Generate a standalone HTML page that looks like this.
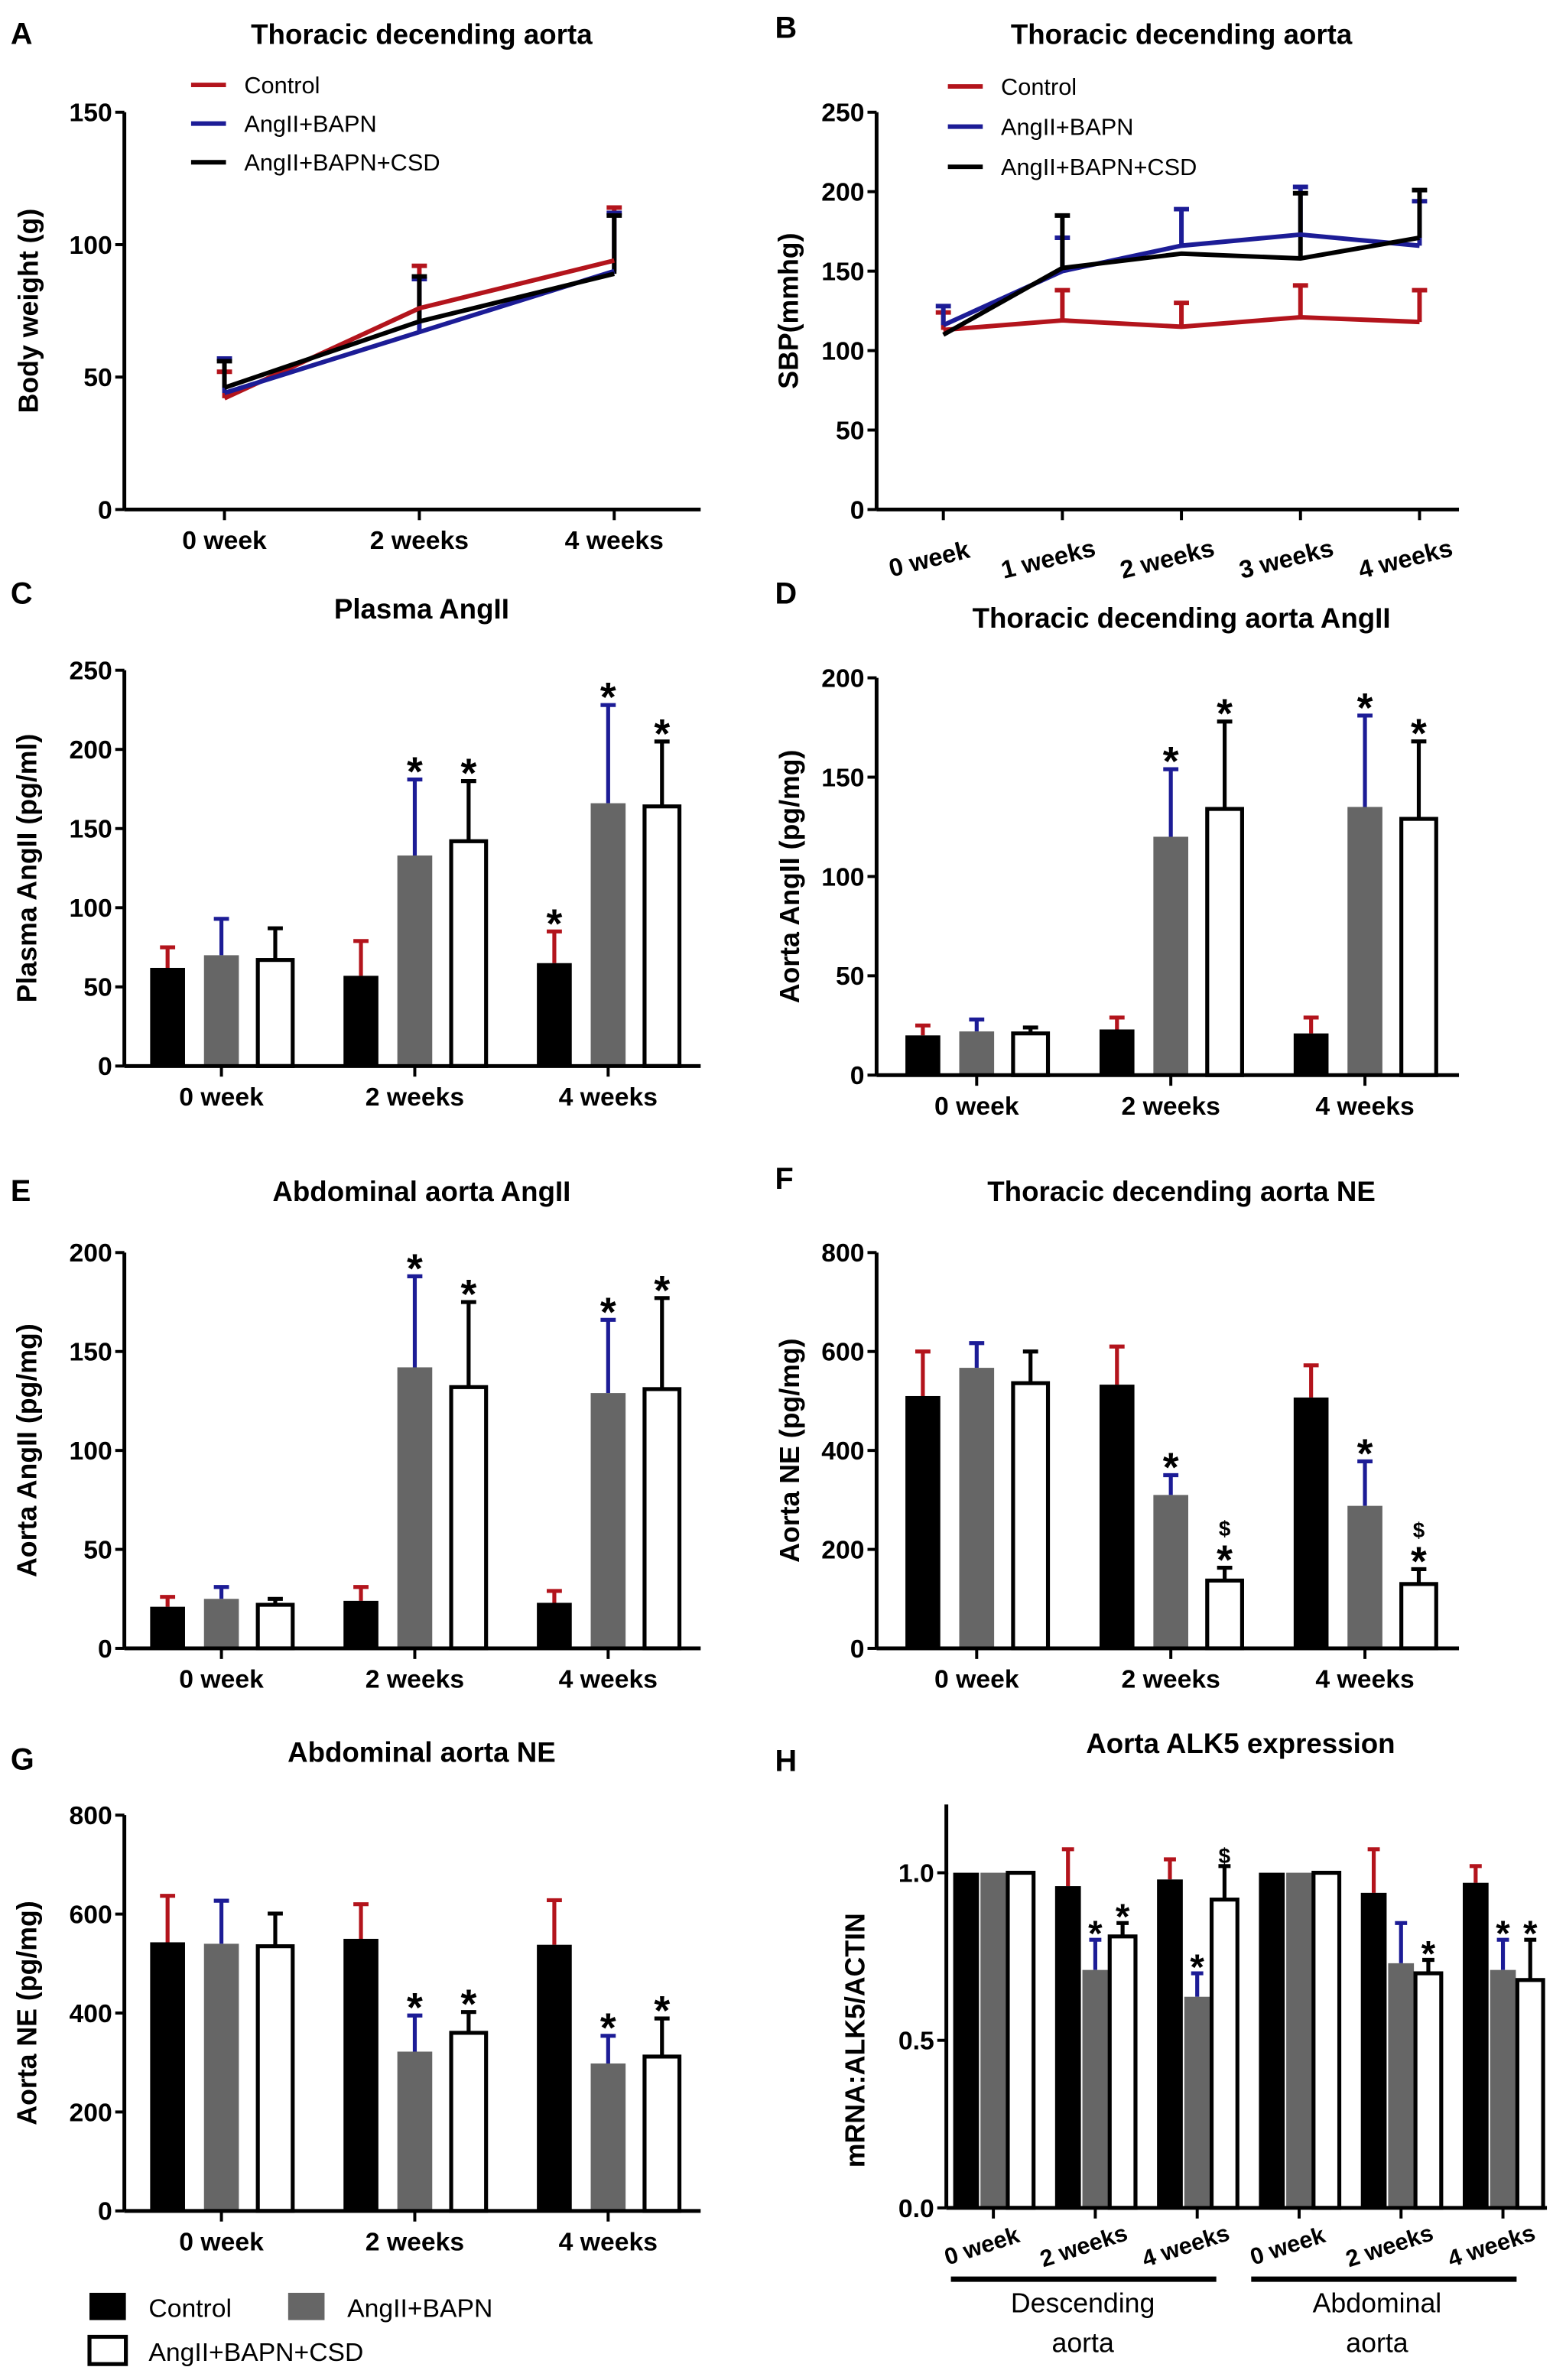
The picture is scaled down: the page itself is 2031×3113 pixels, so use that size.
<!DOCTYPE html>
<html><head><meta charset="utf-8"><style>
html,body{margin:0;padding:0;background:#fff}
svg{display:block}
text{font-family:"Liberation Sans",Arial,sans-serif}
</style></head><body>
<svg id="fig" width="2031" height="3113" viewBox="0 0 1024 1569.5" preserveAspectRatio="none" xmlns="http://www.w3.org/2000/svg"></svg>
<script>
// ---------- DATA ----------
const lineCatsA = ["0 week","2 weeks","4 weeks"];
const aControl = [42,76,94], aControlErr = [52,92,114];
const aAng = [44,67,90], aAngErr = [57,87,112];
const aCsd = [46,71,89], aCsdErr = [56,88,111];
const aTicks = [0,50,100,150];

const lineCatsB = ["0 week","1 weeks","2 weeks","3 weeks","4 weeks"];
const bControl = [113,119,115,121,118], bControlErr = [124,138,130,141,138];
const bAng = [116,150,166,173,166], bAngErr = [128,171,189,203,194];
const bCsd = [110,152,161,158,171], bCsdErr = [110,185,161,199,201];
const bTicks = [0,50,100,150,200,250];

const barCats = ["0 week","2 weeks","4 weeks"];
const cControl=[62,57,65], cControlErr=[75,79,85];
const cAng=[70,133,166], cAngErr=[93,181,228];
const cCsd=[67,142,164], cCsdErr=[87,180,205];
const cTicks=[0,50,100,150,200,250];
const cMarks=[[2,0,"*"],[1,1,"*"],[1,2,"*"],[2,1,"*"],[2,2,"*"]];

const dControl=[20,23,21], dControlErr=[25,29,29];
const dAng=[22,120,135], dAngErr=[28,154,181];
const dCsd=[21,134,129], dCsdErr=[24,178,168];
const dTicks=[0,50,100,150,200];
const dMarks=[[1,1,"*"],[1,2,"*"],[2,1,"*"],[2,2,"*"]];

const eControl=[21,24,23], eControlErr=[26,31,29];
const eAng=[25,142,129], eAngErr=[31,188,166];
const eCsd=[22,132,131], eCsdErr=[25,175,177];
const eTicks=[0,50,100,150,200];
const eMarks=[[1,1,"*"],[1,2,"*"],[2,1,"*"],[2,2,"*"]];

const fControl=[510,533,507], fControlErr=[600,610,572];
const fAng=[567,310,288], fAngErr=[617,350,378];
const fCsd=[536,137,130], fCsdErr=[600,163,160];
const fTicks=[0,200,400,600,800];
const fMarks=[[1,1,"*"],[1,2,"*$"],[2,1,"*"],[2,2,"*$"]];

const gControl=[543,550,538], gControlErr=[637,620,628];
const gAng=[540,322,298], gAngErr=[627,395,354];
const gCsd=[535,360,312], gCsdErr=[601,402,389];
const gTicks=[0,200,400,600,800];
const gMarks=[[1,1,"*"],[1,2,"*"],[2,1,"*"],[2,2,"*"]];

const hCats=["0 week","2 weeks","4 weeks","0 week","2 weeks","4 weeks"];
const hControl=[1,0.96,0.98,1,0.94,0.97], hControlErr=[1,1.07,1.04,1,1.07,1.02];
const hAng=[1,0.71,0.63,1,0.73,0.71], hAngErr=[1,0.80,0.70,1,0.85,0.80];
const hCsd=[1,0.81,0.92,1,0.70,0.68], hCsdErr=[1,0.85,1.02,1,0.74,0.80];
const hTicks=[0.0,0.5,1.0];
const hMarks=[[1,1,"*"],[1,2,"*"],[2,1,"*"],[2,2,"$"],[4,2,"*"],[5,1,"*"],[5,2,"*"]];

// ---------- HELPERS ----------
const NS="http://www.w3.org/2000/svg";
const svg=document.getElementById('fig');
const RED="#b3141c", BLUE="#1c1c96", GRAY="#666666";
function mk(tag,attrs,parent){const e=document.createElementNS(NS,tag);for(const k in attrs)e.setAttribute(k,attrs[k]);(parent||svg).appendChild(e);return e;}
function txt(str,x,y,size,weight,anchor,parent,extra){const t=mk('text',Object.assign({x:x,y:y,'font-size':size,'font-weight':weight||'bold','text-anchor':anchor||'middle',fill:'#000'},extra||{}),parent);t.textContent=str;return t;}

function yAxis(g,ax,yBot,yTop,max,ticks,fmt,title,titleX){
  const sc=v=>yBot-(v/max)*(yBot-yTop);
  const l=mk('line',{x1:ax,y1:yBot,x2:ax,y2:yTop,stroke:'#000','stroke-width':2.5},g);
  
  
  ticks.forEach(v=>{
    const tk=mk('line',{x1:ax-6,y1:sc(v),x2:ax,y2:sc(v),stroke:'#000','stroke-width':2},g);
    
    
    const t=txt(fmt?fmt(v):String(v),ax-8,sc(v)+6,17,'bold','end',g);
    
    
  });
  const cy=(yBot+yTop)/2;
  const tt=txt(title,titleX,cy,18,'bold','middle',g,{transform:`rotate(-90 ${titleX} ${cy})`});
  
  
  return sc;
}
function xAxis(g,ax,xEnd,yBot,centers){
  const l=mk('line',{x1:ax,y1:yBot,x2:xEnd,y2:yBot,stroke:'#000','stroke-width':2.5},g);
  
  
  centers.forEach(c=>{
    const tk=mk('line',{x1:c,y1:yBot,x2:c,y2:yBot+7,stroke:'#000','stroke-width':2},g);
    
    
  });
}
function panelHead(g,letter,lx,ly,title,tx,ty){
  const a=txt(letter,lx,ly,20,'bold','start',g);
  
  
  const t=txt(title,tx,ty,18.5,'bold','middle',g);
  
  
}

// ---------- LINE CHARTS ----------
function lineChart(name,cfg,cats,series){
  const g=mk('g',{});
  
  
  panelHead(g,cfg.letter,cfg.lx,cfg.ly,cfg.title,cfg.tx,cfg.ty);
  const sc=yAxis(g,cfg.ax,cfg.yBot,cfg.yTop,cfg.max,cfg.ticks,null,cfg.ytitle,cfg.ytitleX);
  const xs=i=>cfg.x0+i*cfg.step;
  const centers=cats.map((c,i)=>xs(i));
  xAxis(g,cfg.ax,cfg.xEnd,cfg.yBot,centers);
  cats.forEach((c,i)=>{
    let t;
    if(cfg.rot){t=txt(c,xs(i)-8,cfg.yBot+38,16.5,'bold','middle',g,{transform:`rotate(-14 ${xs(i)-8} ${cfg.yBot+38})`});}
    else t=txt(c,xs(i),cfg.yBot+26,17,'bold','middle',g);
    
    
  });
  series.forEach(s=>{
    s.err.forEach((e,i)=>{
      if(e<=s.vals[i]) return;
      const eb=mk('path',{d:`M${xs(i)},${sc(s.vals[i])}V${sc(e)}M${xs(i)-5},${sc(e)}H${xs(i)+5}`,stroke:s.color,'stroke-width':3,fill:'none'},g);
      
      
    });
  });
  series.forEach(s=>{
    const p=mk('polyline',{points:s.vals.map((v,i)=>`${xs(i)},${sc(v)}`).join(' '),stroke:s.color,'stroke-width':3,fill:'none'},g);
    
    
  });
  series.forEach((s,k)=>{
    const y=cfg.legY+k*cfg.legDy;
    const ll=mk('line',{x1:cfg.legX,y1:y,x2:cfg.legX+23,y2:y,stroke:s.color,'stroke-width':3},g);
    
    
    const lt=txt(s.label,cfg.legX+35,y+5.5,15.5,'normal','start',g);
    
    
  });
}
lineChart('panel-a-body-weight',{letter:'A',lx:7,ly:29,title:'Thoracic decending aorta',tx:278,ty:29,ax:82,yBot:336,yTop:74,max:150,ticks:aTicks,ytitle:'Body weight (g)',ytitleX:25,x0:148,step:128.5,xEnd:462,legX:126,legY:56,legDy:25.5},
  lineCatsA,[{vals:aControl,err:aControlErr,color:RED,label:'Control'},{vals:aAng,err:aAngErr,color:BLUE,label:'AngII+BAPN'},{vals:aCsd,err:aCsdErr,color:'#000',label:'AngII+BAPN+CSD'}]);
lineChart('panel-b-sbp',{letter:'B',lx:511,ly:25,title:'Thoracic decending aorta',tx:779,ty:29,ax:578,yBot:336,yTop:74,max:250,ticks:bTicks,ytitle:'SBP(mmhg)',ytitleX:526,x0:622,step:78.5,xEnd:962,rot:true,legX:625,legY:57,legDy:26.5},
  lineCatsB,[{vals:bControl,err:bControlErr,color:RED,label:'Control'},{vals:bAng,err:bAngErr,color:BLUE,label:'AngII+BAPN'},{vals:bCsd,err:bCsdErr,color:'#000',label:'AngII+BAPN+CSD'}]);

// ---------- BAR CHARTS ----------
function barChart(name,cfg,cats,series,marks){
  const g=mk('g',{});
  
  
  panelHead(g,cfg.letter,cfg.lx,cfg.ly,cfg.title,cfg.tx,cfg.ty);
  const sc=yAxis(g,cfg.ax,cfg.yBot,cfg.yTop,cfg.max,cfg.ticks,cfg.fmt,cfg.ytitle,cfg.ytitleX);
  const cx=i=>cfg.x0+i*cfg.step;
  const centers=cats.map((c,i)=>cx(i));
  series.forEach((s,k)=>{
    s.vals.forEach((v,i)=>{
      const x=cx(i)+(k-1)*cfg.off;
      if(s.err[i]>v){
        const eb=mk('path',{d:`M${x},${sc(v)}V${sc(s.err[i])}M${x-cfg.cap},${sc(s.err[i])}H${x+cfg.cap}`,stroke:s.ecol,'stroke-width':2.6,fill:'none'},g);
        
        
      }
      const r=mk('rect',{x:x-cfg.w/2,y:sc(v),width:cfg.w,height:cfg.yBot-sc(v),fill:s.fill,stroke:'#000','stroke-width':s.fill==='#fff'?2.6:0},g);
      
      
    });
  });
  xAxis(g,cfg.ax,cfg.xEnd,cfg.yBot,centers);
  cats.forEach((c,i)=>{
    let t;
    if(cfg.rot){const X=cx(i)-6,Y=cfg.yBot+30;t=txt(c,X,Y,15.5,'bold','middle',g,{transform:`rotate(-18 ${X} ${Y})`});}
    else t=txt(c,cx(i),cfg.yBot+26,17,'bold','middle',g);
    
    
  });
  marks.forEach(m=>{
    const s=series[m[1]];const x=cx(m[0])+(m[1]-1)*cfg.off;
    let y=sc(Math.max(s.err[m[0]],s.vals[m[0]]));
    const sym=m[2];
    if(sym.indexOf('*')>=0){const t=txt('*',x,y+4,cfg.star,'bold','middle',g);y-=cfg.star*0.7;}
    if(sym.indexOf('$')>=0){const t=txt('$',x,y-2,14,'bold','middle',g);}
  });
  return g;
}
function ser(c,ce,a,ae,w,we){return [{key:'control',vals:c,err:ce,fill:'#000',ecol:RED},{key:'angii-bapn',vals:a,err:ae,fill:GRAY,ecol:BLUE},{key:'angii-bapn-csd',vals:w,err:we,fill:'#fff',ecol:'#000'}];}
const leftBase={ax:82,x0:146,step:127.5,off:35.5,w:23,cap:5,xEnd:462,star:27};
const rightBase={ax:578,x0:644,step:128,off:35.5,w:23,cap:5,xEnd:962,star:27};
barChart('panel-c-plasma-angii',Object.assign({},leftBase,{letter:'C',lx:7,ly:398,title:'Plasma AngII',tx:278,ty:408,yBot:703,yTop:442,max:250,ticks:cTicks,ytitle:'Plasma AngII  (pg/ml)',ytitleX:24}),barCats,ser(cControl,cControlErr,cAng,cAngErr,cCsd,cCsdErr),cMarks);
barChart('panel-d-aorta-angii',Object.assign({},rightBase,{letter:'D',lx:511,ly:398,title:'Thoracic decending aorta AngII',tx:779,ty:414,yBot:709,yTop:447,max:200,ticks:dTicks,ytitle:'Aorta AngII  (pg/mg)',ytitleX:527}),barCats,ser(dControl,dControlErr,dAng,dAngErr,dCsd,dCsdErr),dMarks);
barChart('panel-e-abdominal-angii',Object.assign({},leftBase,{letter:'E',lx:7,ly:792,title:'Abdominal aorta AngII',tx:278,ty:792,yBot:1087,yTop:826,max:200,ticks:eTicks,ytitle:'Aorta AngII  (pg/mg)',ytitleX:24}),barCats,ser(eControl,eControlErr,eAng,eAngErr,eCsd,eCsdErr),eMarks);
barChart('panel-f-thoracic-ne',Object.assign({},rightBase,{letter:'F',lx:511,ly:784,title:'Thoracic decending aorta NE',tx:779,ty:792,yBot:1087,yTop:826,max:800,ticks:fTicks,ytitle:'Aorta NE (pg/mg)',ytitleX:527}),barCats,ser(fControl,fControlErr,fAng,fAngErr,fCsd,fCsdErr),fMarks);
barChart('panel-g-abdominal-ne',Object.assign({},leftBase,{letter:'G',lx:7,ly:1167,title:'Abdominal aorta NE',tx:278,ty:1162,yBot:1458,yTop:1197,max:800,ticks:gTicks,ytitle:'Aorta NE (pg/mg)',ytitleX:24}),barCats,ser(gControl,gControlErr,gAng,gAngErr,gCsd,gCsdErr),gMarks);
barChart('panel-h-alk5',{letter:'H',lx:511,ly:1168,title:'Aorta ALK5 expression',tx:818,ty:1156,ax:624,yBot:1456,yTop:1235,max:1.0,ticks:hTicks,fmt:v=>v.toFixed(1),ytitle:'mRNA:ALK5/ACTIN',ytitleX:570,x0:655,step:67.2,off:18,w:17,cap:4,xEnd:1020,star:24,rot:true},hCats,ser(hControl,hControlErr,hAng,hAngErr,hCsd,hCsdErr),hMarks);
const hTop=mk('line',{x1:624,y1:1190,x2:624,y2:1236,stroke:'#000','stroke-width':2.5});



[[627,802,'Descending',714],[825,1000,'Abdominal',908]].forEach(b=>{
  const l=mk('line',{x1:b[0],y1:1503,x2:b[1],y2:1503,stroke:'#000','stroke-width':3.5});
  
  
  const t1=txt(b[2],b[3],1525,18,'normal','middle');
  
  
  const t2=txt('aorta',b[3],1551,18,'normal','middle');
  
  
});

const legItems=[['#000','Control',59,1512,98],[GRAY,'AngII+BAPN',190,1512,229],['#fff','AngII+BAPN+CSD',59,1541,98]];
legItems.forEach(it=>{
  const r=mk('rect',{x:it[2],y:it[3],width:24,height:18,fill:it[0],stroke:it[0]==='#fff'?'#000':'none','stroke-width':2.6});
  
  
  const t=txt(it[1],it[4],it[3]+16,17,'normal','start');
  
  
});
</script>
</body></html>
